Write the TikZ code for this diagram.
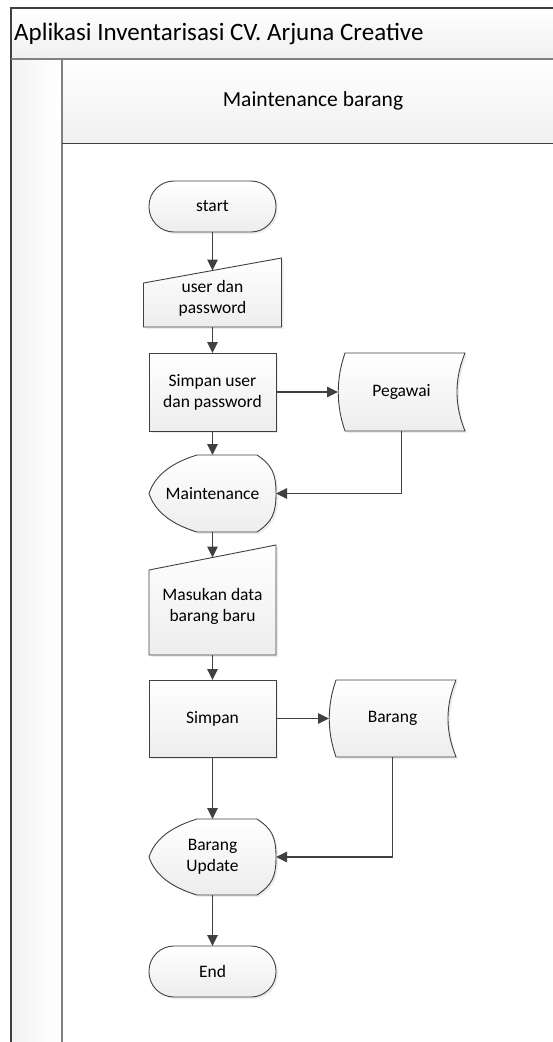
\documentclass[tikz,border=0pt]{standalone}
\usepackage{fontspec}
\setmainfont{Carlito}
\usetikzlibrary{arrows.meta,positioning,backgrounds,shadows}
\definecolor{ln}{HTML}{404040}
\definecolor{lanegray}{HTML}{808080}

\begin{document}
\begin{tikzpicture}[x=1pt, y=-1pt,
  node distance=25pt and 60pt,
  txt/.style={font=\fontsize{17.5}{21}\selectfont, align=center, text=black,
              inner sep=2pt, outer sep=0pt},
  sh/.style={draw=ln, line width=0.9pt, top color=white, bottom color=gray!14,
             drop shadow={opacity=0.15, shadow xshift=2pt, shadow yshift=-2pt}},
  box/.style={txt, sh, minimum width=127pt, minimum height=#1},
  box/.default=77pt,
  term/.style={box=51pt, rounded corners=25pt},
  bare/.style={txt, minimum width=#1},
  bare/.default=127pt,
  arr/.style={-{Triangle[length=11pt,width=10.5pt]}, line width=1.4pt, draw=ln}]
\useasboundingbox (0,0) rectangle (553,1042);
% pool and lane
\path[top color=white, bottom color=gray!12] (11,8) rectangle (560,59);
\path[left color=gray!9, right color=white] (11,59) rectangle (62,1050);
\path[top color=white, bottom color=gray!12] (62,59) rectangle (560,143);
\draw[ln, line width=1.2pt] (11,1050) -- (11,8) -- (560,8);
\draw[lanegray, line width=2pt] (11,59) -- (560,59);
\draw[lanegray, line width=2pt] (62,59) -- (62,1050);
\draw[ln, line width=1pt] (62,143) -- (560,143);
\node[anchor=west, inner sep=0pt, font=\fontsize{25}{30}\selectfont] (pool) at (14,34)
  {Aplikasi Inventarisasi CV. Arjuna Creative};
\node[font=\fontsize{21.5}{26}\selectfont] (lane) at (313,101) {Maintenance barang};
% flow
\node[term] (start) at (212.5,206.5) {start};
\node[bare=138pt, minimum height=56.5pt, below=38.5pt of start] (inp) {user dan\\password};
\node[box=78pt, below=26pt of inp] (simpu) {Simpan user\\dan password};
\node[bare, minimum height=78pt, right=62pt of simpu] (peg) {Pegawai};
\node[bare, minimum height=77pt, below=24pt of simpu] (mnt) {Maintenance};
\node[bare, minimum height=97.5pt, below=25.5pt of mnt] (inb) {Masukan data\\barang baru};
\node[box, below=25pt of inb] (simp) {Simpan};
\node[bare, minimum height=77pt, right=53pt of simp] (brg) {Barang};
\node[bare, minimum height=76pt, below=62pt of simp] (upd) {Barang\\Update};
\node[term, below=51pt of upd] (fin) {End};
\begin{scope}[on background layer]
\path[sh] (inp.south west) -- ([yshift=-12.5pt]inp.north west)
  -- ([yshift=12.5pt]inp.north east) -- (inp.south east) -- cycle;
\path[sh] (inb.south west) -- ([yshift=-12.5pt]inb.north west)
  -- ([yshift=12.5pt]inb.north east) -- (inb.south east) -- cycle;
\foreach \n in {peg,brg}
  \path[sh] ([xshift=7pt]\n.north west) -- (\n.north east)
    .. controls ([xshift=-10.7pt,yshift=-26pt]\n.north east) and ([xshift=-10.7pt,yshift=26pt]\n.south east) .. (\n.south east)
    -- ([xshift=7pt]\n.south west)
    .. controls ([xshift=-2pt,yshift=26pt]\n.south west) and ([xshift=-2pt,yshift=-26pt]\n.north west) .. ([xshift=7pt]\n.north west)
    -- cycle;
\foreach \n in {mnt,upd}
  \path[sh] ([xshift=48pt]\n.north west) -- ([xshift=-19pt]\n.north east)
    .. controls ([xshift=-4pt,yshift=-10pt]\n.north east) and ([yshift=20pt]\n.east) .. (\n.east)
    .. controls ([yshift=-20pt]\n.east) and ([xshift=-4pt,yshift=10pt]\n.south east) .. ([xshift=-19pt]\n.south east)
    -- ([xshift=48pt]\n.south west)
    .. controls ([xshift=22pt,yshift=8pt]\n.south west) and ([xshift=6pt,yshift=-18pt]\n.west) .. (\n.west)
    .. controls ([xshift=6pt,yshift=18pt]\n.west) and ([xshift=22pt,yshift=-8pt]\n.north west) .. ([xshift=48pt]\n.north west)
    -- cycle;
\end{scope}
\draw[arr] (start) -- (inp);
\draw[arr] (inp) -- (simpu);
\draw[arr] (simpu) -- (peg);
\draw[arr] (simpu) -- (mnt);
\draw[arr] (peg.south) |- (mnt.east);
\draw[arr] (mnt) -- (inb);
\draw[arr] (inb) -- (simp);
\draw[arr] (simp) -- (brg);
\draw[arr] (simp) -- (upd);
\draw[arr] (brg.south) |- (upd.east);
\draw[arr] (upd) -- (fin);
\end{tikzpicture}
\end{document}
